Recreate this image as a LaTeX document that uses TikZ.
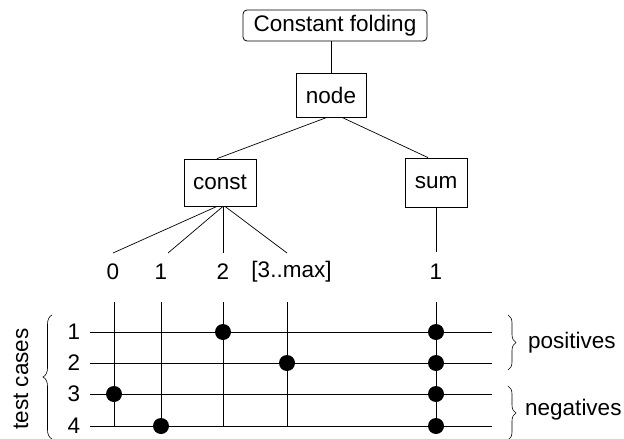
\documentclass[tikz,border=0pt]{standalone}
\usepackage{fontspec}
\setmainfont{Liberation Sans}
\usetikzlibrary{calc,decorations.pathreplacing}

\begin{document}
\begin{tikzpicture}[x=1pt,y=-1pt,
  every node/.style={font=\fontsize{22.5}{27}\selectfont},
  box/.style={draw,line width=0.8pt,minimum width=70pt,minimum height=46pt,inner sep=0pt},
  title/.style={draw,line width=0.8pt,rounded corners=4pt,minimum width=184pt,minimum height=31pt,inner sep=0pt},
  edge/.style={line width=0.7pt},
  grid/.style={line width=0.7pt},
  hit/.style={fill=black,circle,inner sep=0pt,minimum size=16pt},
  lbl/.style={inner sep=0pt},
  brc/.style={decorate,decoration={brace,amplitude=8pt},line width=0.6pt}
]
\useasboundingbox (0,0) rectangle (624,439);

% tree
\node[title] (top) at (335,25.5) {Constant folding};
\node[box,minimum height=44pt] (nd) at (331,95) {node};
\node[box,minimum width=72pt,minimum height=47pt] (cst) at (220,182.5) {const};
\node[box,minimum width=62pt,minimum height=49pt] (sum) at (436,182.5) {sum};

\draw[edge] (top.south -| nd.north) -- (nd.north);
\draw[edge] ($(nd.south)+(-4,0)$) -- ($(cst.north)+(-3,0)$);
\draw[edge] ($(nd.south)+(11,0)$) -- ($(sum.north)+(-8,0)$);

% values of const and sum
\node[lbl] (v0) at (113,272) {0};
\node[lbl] (v1) at (161,272) {1};
\node[lbl] (v2) at (223,272) {2};
\node[lbl] (v3) at (291.5,272) {[3..max]};
\node[lbl] (s1) at (436,272) {1};

\coordinate (t0) at (113,253);
\coordinate (t1) at (168,253);
\coordinate (t2) at (223,253);
\coordinate (t3) at (287,253);
\coordinate (ts) at (436,252);
\draw[edge] ($(cst.south)+(-3,0)$) -- (t0);
\draw[edge] ($(cst.south)+(3,0)$) -- (t1);
\draw[edge] ($(cst.south)+(3,0)$) -- (t2);
\draw[edge] ($(cst.south)+(5,0)$) -- (t3);
\draw[edge] (sum.south) -- (ts);

% rows of test cases
\foreach \r/\y in {1/332,2/363,3/394,4/426}{
  \node[lbl] (r\r) at (74,\y) {\r};
  \coordinate (ra\r) at (90,\y);
  \coordinate (rb\r) at (492,\y);
  \draw[grid] (ra\r) -- (rb\r);
}

% columns
\foreach \c/\x in {0/114,1/161,2/223,3/287,s/436}{
  \coordinate (ca\c) at (\x,302);
  \coordinate (cb\c) at (\x,426);
  \draw[grid] (ca\c) -- (cb\c);
}

% covered combinations
\foreach \c/\r in {2/1,s/1,3/2,s/2,0/3,s/3,1/4,s/4}{
  \node[hit] at (ca\c |- ra\r) {};
}

% braces and their labels
\coordinate (bl1) at (52,439);
\coordinate (bl2) at (52,315);
\draw[brc,decoration={amplitude=9pt}] (bl1) -- (bl2);
\node[lbl,rotate=90] (tc) at (21,379) {test cases};

\coordinate (bp1) at (508,315);
\coordinate (bp2) at (508,370);
\draw[brc] (bp1) -- (bp2);
\node[lbl,anchor=west] (pos) at (528,343) {positives};

\coordinate (bn1) at (508,386);
\coordinate (bn2) at (508,440);
\draw[brc] (bn1) -- (bn2);
\node[lbl,anchor=west] (neg) at (525,410) {negatives};
\end{tikzpicture}
\end{document}
